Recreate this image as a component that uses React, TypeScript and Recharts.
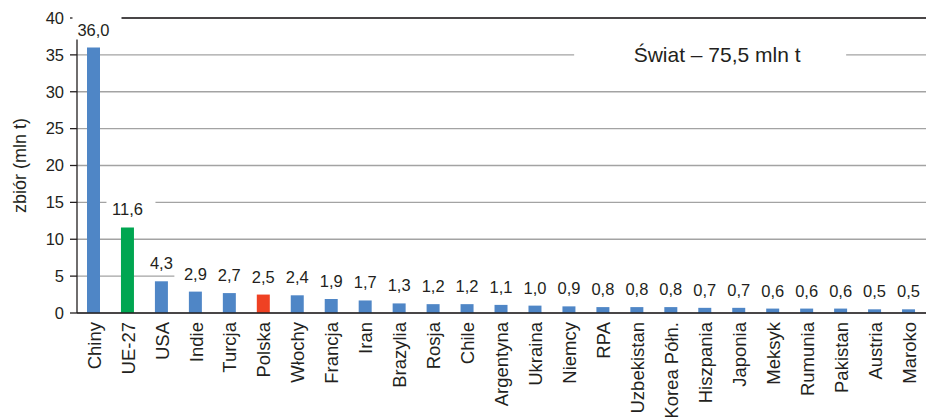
import {
  BarChart,
  Bar,
  XAxis,
  YAxis,
  CartesianGrid,
  ReferenceLine,
  LabelList,
  Cell,
} from "recharts";

const countries = [
  "Chiny",
  "UE-27",
  "USA",
  "Indie",
  "Turcja",
  "Polska",
  "Włochy",
  "Francja",
  "Iran",
  "Brazylia",
  "Rosja",
  "Chile",
  "Argentyna",
  "Ukraina",
  "Niemcy",
  "RPA",
  "Uzbekistan",
  "Korea Półn.",
  "Hiszpania",
  "Japonia",
  "Meksyk",
  "Rumunia",
  "Pakistan",
  "Austria",
  "Maroko",
];

const harvest = [
  36.0, 11.6, 4.3, 2.9, 2.7, 2.5, 2.4, 1.9, 1.7, 1.3, 1.2, 1.2, 1.1, 1.0, 0.9,
  0.8, 0.8, 0.8, 0.7, 0.7, 0.6, 0.6, 0.6, 0.5, 0.5,
];

const yTicks = [0, 5, 10, 15, 20, 25, 30, 35, 40];
const worldTotal = "Świat – 75,5 mln t";
const axisTitle = "zbiór (mln t)";

const BLUE = "#4f86c6";
const GREEN = "#00a651";
const RED = "#ef4123";
const INK = "#231f20";
const FONT = "'Liberation Sans', Arial, sans-serif";

// kolory wyróżnionych słupków
const highlight: Record<string, string> = { "UE-27": GREEN, Polska: RED };

const data = countries.map((name, i) => ({ name, value: harvest[i] }));
// granice kategorii: 0..n
const edgeTicks = [...countries.map((_, i) => i), countries.length];

const fmt = (v: number) => v.toFixed(1).replace(".", ",");

function LabelBox(props: any) {
  const { x, y, width } = props;
  const cx = Number(x) + Number(width) / 2;
  const base = Number(y) - 12;
  return <rect x={cx - 21} y={base - 23} width={49} height={27} fill="#fff" />;
}

function LabelText(props: any) {
  const { x, y, width, value } = props;
  const cx = Number(x) + Number(width) / 2;
  const base = Number(y) - 12;
  return (
    <text
      x={cx}
      y={base}
      textAnchor="middle"
      fontSize={16.5}
      fill={INK}
      fontFamily={FONT}
    >
      {fmt(Number(value))}
    </text>
  );
}

function CountryTick({ x, y, payload }: any) {
  return (
    <g transform={`translate(${x},${y})`}>
      <text
        transform="rotate(-90)"
        textAnchor="end"
        dy="0.36em"
        fontSize={18.5}
        fill={INK}
        fontFamily={FONT}
      >
        {payload.value}
      </text>
    </g>
  );
}

function WorldLabel(props: any) {
  const { viewBox } = props;
  const cx = viewBox.x + viewBox.width * 0.754;
  const cy = viewBox.y;
  return (
    <g>
      <rect x={cx - 143} y={cy - 16} width={272} height={32} fill="#fff" />
      <text
        x={cx}
        y={cy}
        dy="0.35em"
        textAnchor="middle"
        fontSize={21}
        fill={INK}
        fontFamily={FONT}
      >
        {worldTotal}
      </text>
    </g>
  );
}

export default function App() {
  return (
    <div style={{ position: "absolute", left: 0, top: 0, background: "#fff" }}>
      <BarChart
        width={926}
        height={417}
        data={data}
        margin={{ top: 18, right: 0, left: 0, bottom: 0 }}
      >
        <CartesianGrid vertical={false} stroke="#a3a3a3" strokeWidth={1.3} />
        <ReferenceLine y={40} stroke="#231f20" strokeWidth={1.3} />
        <ReferenceLine y={35} stroke="none" label={WorldLabel} />
        {/* oś z kreskami na granicach kategorii (tuż pod wykresem) */}
        <XAxis
          type="number"
          domain={[0, countries.length]}
          ticks={edgeTicks}
          tick={false}
          tickSize={7}
          height={7}
          stroke="#231f20"
          strokeWidth={1.3}
        />
        <XAxis
          xAxisId="cat"
          dataKey="name"
          interval={0}
          axisLine={false}
          tickLine={false}
          tickSize={0}
          tickMargin={2}
          height={97}
          tick={<CountryTick />}
        />
        <YAxis
          domain={[0, 40]}
          ticks={yTicks}
          width={77}
          tickSize={7}
          tickMargin={6}
          stroke="#231f20"
          strokeWidth={1.3}
          tick={{ fontSize: 16.5, fill: INK, fontFamily: FONT }}
          label={{
            value: axisTitle,
            angle: -90,
            position: "insideLeft",
            offset: 20,
            style: {
              textAnchor: "middle",
              fontSize: 18,
              fill: INK,
              fontFamily: FONT,
            },
          }}
        />
        <Bar
          dataKey="value"
          xAxisId="cat"
          barSize={13}
          isAnimationActive={false}
        >
          {data.map((d) => (
            <Cell key={d.name} fill={highlight[d.name] ?? BLUE} />
          ))}
          <LabelList dataKey="value" content={LabelBox} />
          <LabelList dataKey="value" content={LabelText} />
        </Bar>
      </BarChart>
    </div>
  );
}
